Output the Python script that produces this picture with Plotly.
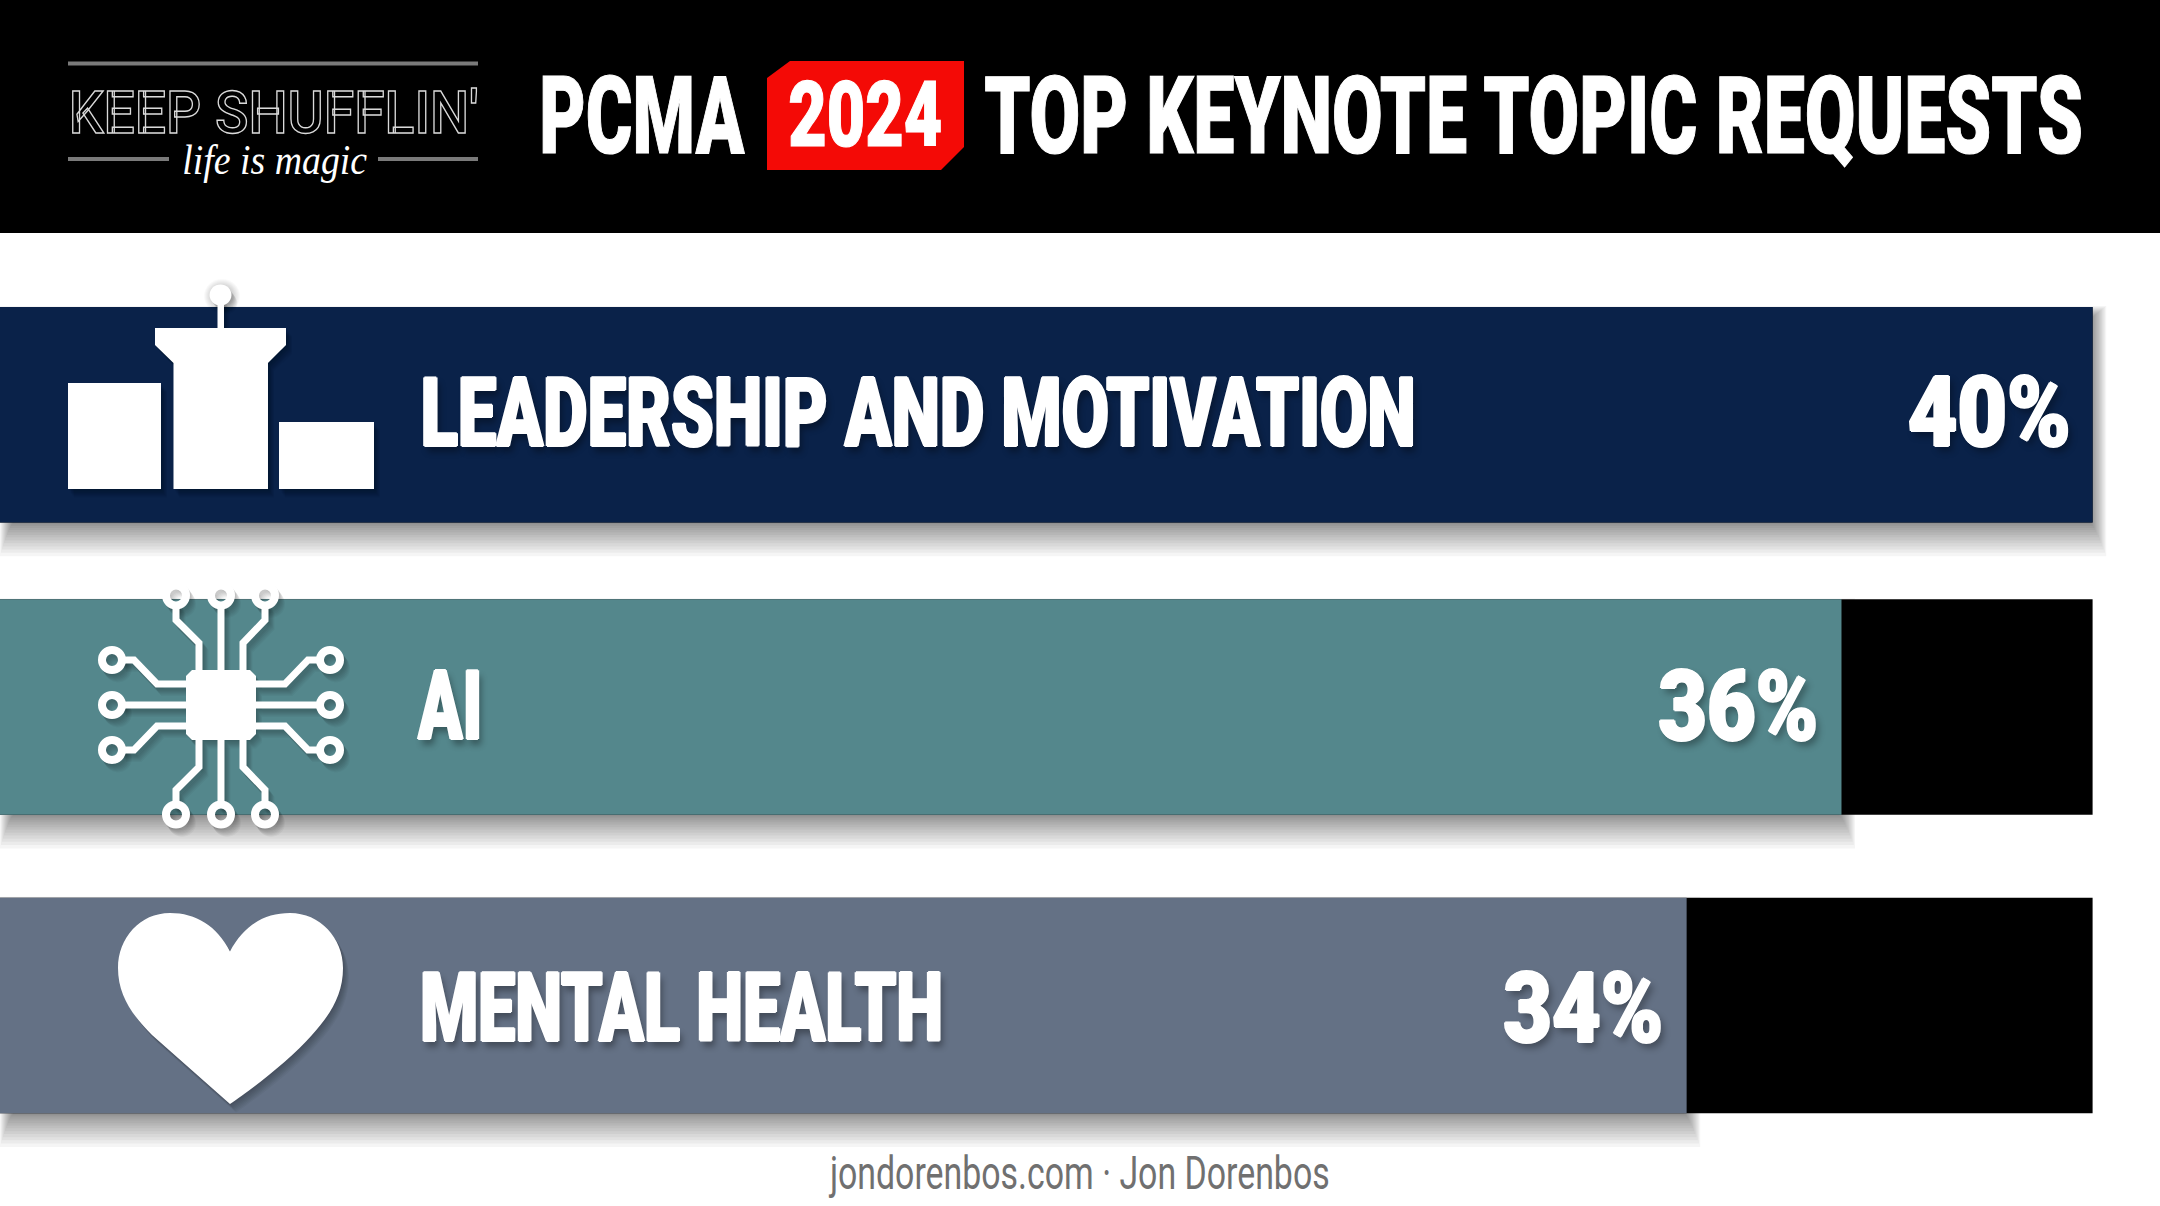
import json
import plotly.graph_objects as go

# ---------- data ----------
categories = ["LEADERSHIP AND MOTIVATION", "AI", "MENTAL HEALTH"]
percent_labels = ["40%", "36%", "34%"]
# drawn length of each coloured bar, as a share of the full track
bar_length = [100.0, 88.0, 80.6]
track_length = [100.0, 100.0, 100.0]
bar_colors = ["#0A2249", "#54878C", "#647185"]
title_left = "PCMA"
title_badge = "2024"
title_right = "TOP KEYNOTE TOPIC REQUESTS"
logo_main = "KEEP SHUFFLIN'"
logo_sub = "life is magic"
footer = "jondorenbos.com · Jon Dorenbos"

# ---------- layout constants ----------
W, H = 2160, 1206
TRACK_END = 2092.6
ROW_CENTER = [414.75, 707.0, 1005.5]
LABEL_CENTER_Y = [413, 706, 1008]
BAR_H = 215.5
FONT = "Roboto"
LABEL_SPAN = [(420, 1415), (417, 481), (420, 943)]
PCT_W = [163, 160, 160]
PCT_GAP = [22, 23, 24]

def px(x):
    return x / W
def py(y):
    return 1 - y / H
def P(x, y):
    return f"{px(x):.5f},{py(y):.5f}"
def poly(pts, close=True):
    s = "M" + " L".join(P(x, y) for x, y in pts)
    return s + (" Z" if close else "")
def ring(cx, cy, rx, ry=None):
    ry = ry or rx
    k = 0.5523
    return ("M" + P(cx - rx, cy) +
            " C" + P(cx - rx, cy - k * ry) + " " + P(cx - k * rx, cy - ry) + " " + P(cx, cy - ry) +
            " C" + P(cx + k * rx, cy - ry) + " " + P(cx + rx, cy - k * ry) + " " + P(cx + rx, cy) +
            " C" + P(cx + rx, cy + k * ry) + " " + P(cx + k * rx, cy + ry) + " " + P(cx, cy + ry) +
            " C" + P(cx - k * rx, cy + ry) + " " + P(cx - rx, cy + k * ry) + " " + P(cx - rx, cy) + " Z")

fig = go.Figure()
fig.add_trace(go.Bar(y=ROW_CENTER, x=track_length, orientation="h", width=BAR_H,
                     marker=dict(color="#000000", line_width=0), hoverinfo="skip", showlegend=False))
fig.add_trace(go.Bar(y=ROW_CENTER, x=bar_length, orientation="h", width=BAR_H,
                     marker=dict(color=bar_colors, line_width=0), showlegend=False, name="share"))

shapes, annos, fit = [], [], {}
def rect_px(x0, y0, x1, y1, color, layer="above"):
    shapes.append(dict(type="rect", xref="paper", yref="paper", x0=px(x0), x1=px(x1), y0=py(y0), y1=py(y1),
                       fillcolor=color, line_width=0, layer=layer))

# bar shadows, built from the bar lengths
for c, v in zip(ROW_CENTER, bar_length):
    end = v / 100 * TRACK_END
    bot = c + BAR_H / 2
    top = c - BAR_H / 2
    for i in range(14):
        rect_px(13 - i, top + 12 - i, end - 2 + 1.2 * i, bot + 1 + i ** 1.36, "rgba(0,0,0,0.04)", layer="below")

# header
rect_px(0, 0, W, 233, "#000000")
rect_px(68, 61.5, 478, 65.5, "#7A7A7A")
rect_px(68, 157, 169, 161, "#7A7A7A")
rect_px(378, 157, 478, 161, "#7A7A7A")
shapes.append(dict(type="path", xref="paper", yref="paper",
                   path=poly([(767, 78), (790, 61), (964, 61), (964, 147), (941, 170), (767, 170)]),
                   fillcolor="#F40A06", line_width=0))

def text(x0, x1, y, s, size, color="#FFFFFF", weight=900, family=FONT, shadow=None, italic=False, stroke=None):
    annos.append(dict(xref="paper", yref="paper", x=px((x0 + x1) / 2), y=py(y), text=s, showarrow=False,
                      xanchor="center", yanchor="middle",
                      font=dict(family=family, size=size, color=color, weight=weight,
                                style="italic" if italic else "normal",
                                **({"shadow": shadow} if shadow else {}))))
    fit[s] = dict(w=x1 - x0, stroke=stroke)

# heavier letters come from tight white copies in the text shadow, then the soft drop shadow
TS = ("1.4px 0 0 #FFF,-1.4px 0 0 #FFF,0 1px 0 #FFF,0 -1px 0 #FFF,"
      "4px 5px 7px rgba(0,0,0,0.33)")
BOLD = dict(color="#FFFFFF", width=1.2)
text(540, 745, 116, title_left, 107, stroke=BOLD)
text(788, 942, 115.5, title_badge, 90, stroke=BOLD)
text(984, 2083, 116, title_right, 107, stroke=BOLD)
text(68, 478, 112, logo_main, 60, color="#000000", weight=500, stroke=dict(color="#DADADA", width=1.4))
text(182, 367, 160, logo_sub, 42, weight=400, family="Liberation Serif", italic=True)

for c, name, span in zip(LABEL_CENTER_Y, categories, LABEL_SPAN):
    text(span[0], span[1], c, name, 96, shadow=TS)

for c, v, lab, w, gap in zip(LABEL_CENTER_Y, bar_length, percent_labels, PCT_W, PCT_GAP):
    annos.append(dict(xref="x", yref="paper", x=v, y=py(c), text=lab, showarrow=False, xanchor="center", yanchor="middle",
                      xshift=-(gap + w / 2), font=dict(family=FONT, size=98, color="#FFFFFF", weight=900, shadow=TS)))
    fit[lab] = dict(w=w, stroke=None)

text(829, 1329, 1172, footer, 47, color="#707070", weight=400)

# icons
def icon(fills=(), strokes=(), rings=(), sw=7):
    for k in range(1, 9):
        dx, dy = k * 0.75, k * 1.05
        for p in fills:
            shapes.append(dict(type="path", xref="paper", yref="paper", path=p(dx, dy),
                               fillcolor="rgba(0,0,0,0.035)", line_width=0))
        for p in strokes:
            shapes.append(dict(type="path", xref="paper", yref="paper", path=p(dx, dy),
                               line=dict(color="rgba(0,0,0,0.035)", width=sw)))
        for p in rings:
            shapes.append(dict(type="path", xref="paper", yref="paper", path=p(dx, dy),
                               line=dict(color="rgba(0,0,0,0.035)", width=sw + 1)))
    for p in strokes:
        shapes.append(dict(type="path", xref="paper", yref="paper", path=p(0, 0),
                           line=dict(color="#FFFFFF", width=sw)))
    for p in rings:
        shapes.append(dict(type="path", xref="paper", yref="paper", path=p(0, 0),
                           line=dict(color="#FFFFFF", width=sw + 1)))
    for p in fills:
        shapes.append(dict(type="path", xref="paper", yref="paper", path=p(0, 0),
                           fillcolor="#FFFFFF", line_width=0))

def polyf(pts, close=True):
    return lambda dx, dy: poly([(x + dx, y + dy) for x, y in pts], close)
def ringf(cx, cy, rx, ry=None):
    return lambda dx, dy: ring(cx + dx, cy + dy, rx, ry)

# podium: soft halo first so the white ball shows on the white ground
for r in (18, 17, 16, 15, 14, 13, 12):
    shapes.append(dict(type="path", xref="paper", yref="paper", path=ring(222, 296, r, r - 1),
                       fillcolor="rgba(0,0,0,0.022)", line_width=0))
icon(fills=[
    polyf([(68, 383), (161, 383), (161, 489), (68, 489)]),
    polyf([(279, 422), (374, 422), (374, 489), (279, 489)]),
    polyf([(155, 328), (286, 328), (286, 345), (268, 363), (268, 489), (173.5, 489), (173.5, 363), (155, 345)]),
    polyf([(217.5, 300), (224, 300), (224, 328), (217.5, 328)]),
    ringf(220.5, 295, 11, 10.5),
])

# chip
nodes = [(176, 595.5), (221, 595.5), (265, 595.5), (176, 814.5), (221, 814.5), (265, 814.5),
         (112, 660), (112, 705), (112, 750), (330, 660), (330, 705), (330, 750)]
wires = [
    [(176, 603), (176, 620), (199, 643), (199, 670)], [(221, 603), (221, 670)], [(265, 603), (265, 620), (243, 643), (243, 670)],
    [(176, 807), (176, 790), (199, 767), (199, 740)], [(221, 807), (221, 740)], [(265, 807), (265, 790), (243, 767), (243, 740)],
    [(120, 660), (134, 660), (157, 684), (186, 684)], [(120, 705), (186, 705)], [(120, 750), (134, 750), (157, 726), (186, 726)],
    [(322, 660), (308, 660), (285, 684), (256, 684)], [(322, 705), (256, 705)], [(322, 750), (308, 750), (285, 726), (256, 726)],
]
icon(fills=[polyf([(192, 670), (250, 670), (256, 676), (256, 734), (250, 740), (192, 740), (186, 734), (186, 676)])],
     strokes=[polyf(w, False) for w in wires], rings=[ringf(x, y, 10) for x, y in nodes])

# heart
def heart(dx, dy):
    def Q(x, y):
        return P(x + dx, y + dy)
    return ("M" + Q(230, 951.5) + " C" + Q(217, 926) + " " + Q(196, 913) + " " + Q(170, 913) +
            " C" + Q(140, 913) + " " + Q(118, 938) + " " + Q(118, 968) +
            " C" + Q(118, 995) + " " + Q(132, 1015) + " " + Q(152, 1035) + " L" + Q(230, 1104) +
            " C" + Q(250, 1091) + " " + Q(290, 1060) + " " + Q(312, 1035) +
            " C" + Q(330, 1015) + " " + Q(343, 995) + " " + Q(343, 968) +
            " C" + Q(343, 938) + " " + Q(320, 913) + " " + Q(290, 913) +
            " C" + Q(264, 913) + " " + Q(243, 926) + " " + Q(230, 951.5) + " Z")
icon(fills=[heart])

fig.update_layout(
    width=W, height=H, margin=dict(l=0, r=0, t=0, b=0), autosize=False,
    paper_bgcolor="#FFFFFF", plot_bgcolor="#FFFFFF", barmode="overlay", showlegend=False,
    xaxis=dict(domain=[0, 1], range=[0, W / TRACK_END * 100], visible=False, fixedrange=True),
    yaxis=dict(domain=[0, 1], range=[H, 0], visible=False, fixedrange=True),
    shapes=shapes, annotations=annos,
)
post = """
document.body.style.margin='0';document.body.style.overflow='hidden';
var FIT=%s;
document.querySelectorAll('text.annotation-text').forEach(function(t){
  var f=FIT[t.textContent]; if(!f) return;
  var nat=t.getComputedTextLength(), cx=parseFloat(t.getAttribute('x'))||0, sx=f.w/nat;
  t.setAttribute('transform','translate('+cx+',0) scale('+sx+',1) translate('+(-cx)+',0)');
  if(f.stroke){t.style.stroke=f.stroke.color;t.style.strokeWidth=f.stroke.width+'px';}
  var r=t.parentNode.parentNode.querySelector('rect');
  if(r){var rw=parseFloat(r.getAttribute('width'))||0, rx=parseFloat(r.getAttribute('x'))||0;
    r.setAttribute('x',rx+(rw-rw*sx)/2); r.setAttribute('width',rw*sx);}
});
""" % json.dumps(fit, ensure_ascii=False)
fig.write_html("out.html", config=dict(displayModeBar=False), post_script=post)
